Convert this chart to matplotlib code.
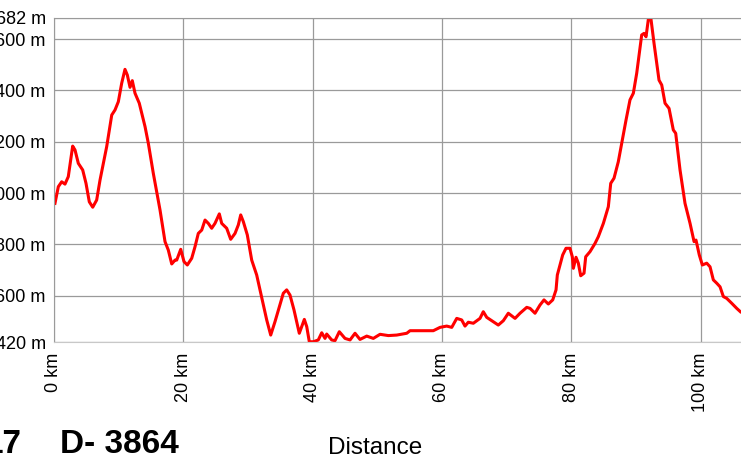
import matplotlib
matplotlib.use('Agg')
import matplotlib.pyplot as plt

# elevation profile (km, m)
dist_km = [0.15,0.67,1.19,1.70,2.21,2.89,3.25,3.76,4.44,4.95,5.46,5.99,6.60,7.12,8.15,8.93,9.44,9.95,10.47,10.98,
           11.34,11.76,12.11,12.53,13.19,14.08,14.59,15.36,16.40,17.17,17.68,18.21,18.72,18.98,19.60,20.11,20.62,21.30,21.81,22.32,
           22.85,23.36,23.87,24.39,24.90,25.57,25.94,26.71,27.33,28.0,28.51,28.88,29.28,29.90,30.58,31.35,31.86,32.37,32.90,33.52,
           34.18,34.85,35.47,35.99,36.50,37.12,37.94,38.72,39.09,39.49,40.11,40.88,41.41,41.92,42.18,42.95,43.46,44.13,45.01,45.79,
           46.56,47.33,48.37,49.39,50.43,51.71,53.01,54.56,55.07,56.10,57.65,58.67,59.71,60.74,61.52,62.29,63.06,63.57,64.08,64.86,
           65.89,66.40,66.93,67.70,68.72,69.50,70.27,71.31,72.08,73.12,73.63,74.40,75.17,75.79,76.46,77.14,77.65,77.85,78.27,78.68,
           79.19,79.81,80.17,80.33,80.74,81.10,81.47,81.98,82.24,82.91,83.68,84.19,84.97,85.74,86.11,86.62,87.28,87.81,88.48,89.09,
           89.61,90.13,90.90,91.26,91.57,91.93,92.15,92.34,92.81,93.23,93.58,94.00,94.51,95.13,95.79,96.16,96.83,97.60,98.38,99.0,
           99.30,99.81,100.28,100.96,101.47,101.98,102.51,103.02,103.53,104.05,104.82,105.60,106.16]
elev_m = [960,1025,1044,1035,1064,1183,1168,1116,1090,1038,966,945,973,1051,1181,1304,1324,1356,1428,1482,
          1460,1412,1438,1389,1350,1259,1194,1077,934,811,778,724,739,739,781,733,720,746,791,843,
          856,895,882,863,882,919,882,863,820,843,876,915,889,837,739,681,623,564,506,447,
          499,557,610,623,603,545,454,508,480,421,421,428,456,434,451,428,425,460,434,428,
          454,430,443,434,450,445,447,454,464,464,464,464,477,482,477,512,506,482,497,493,
          512,538,516,503,486,503,532,512,532,555,551,532,564,584,568,584,623,681,720,759,
          785,785,752,707,750,727,678,688,752,772,804,830,882,947,1038,1058,1122,1194,1285,1363,
          1389,1467,1616,1622,1609,1677,1682,1677,1583,1506,1440,1421,1350,1330,1246,1233,1090,960,882,811,
          817,759,720,727,713,662,649,635,597,590,571,551,538]

yticks = [420,600,800,1000,1200,1400,1600,1682]
xticks = [0,20,40,60,80,100]
plt.rcParams['font.family'] = ['Liberation Sans', 'DejaVu Sans']

fig = plt.figure(figsize=(7.41,4.65), dpi=100)
ax = fig.add_axes([54/741, 123/465, 687/741, 324/465])
ax.plot(dist_km, elev_m, color='#ff0000', lw=2.2, solid_joinstyle='round')

ax.set_xlim(0, 106.26); ax.set_ylim(420, 1682)
ax.set_yticks(yticks); ax.set_yticklabels([f'{v} m' for v in yticks])
ax.set_xticks(xticks); ax.set_xticklabels([f'{v} km' for v in xticks], rotation=90)
ax.tick_params(length=0, labelsize=13, colors='black')
ax.tick_params(axis='y', pad=6); ax.tick_params(axis='x', pad=8)
ax.grid(True, color='#9a9a9a', lw=0.9)
ax.set_axisbelow(True)
for s in ['left','top']: ax.spines[s].set_color('#9a9a9a')
ax.spines['bottom'].set_color('#c8c8c8')
ax.spines['right'].set_visible(False)

# bottom captions (left one is cut by the frame)
fig.text(22/741, 12/465, '17', fontsize=24, fontweight='bold', ha='right', va='baseline')
fig.text(60/741, 12/465, 'D- 3864', fontsize=24, fontweight='bold', ha='left', va='baseline')
fig.text(328/741, 11/465, 'Distance', fontsize=17.5, ha='left', va='baseline')

fig.savefig('out.png', dpi=100)
